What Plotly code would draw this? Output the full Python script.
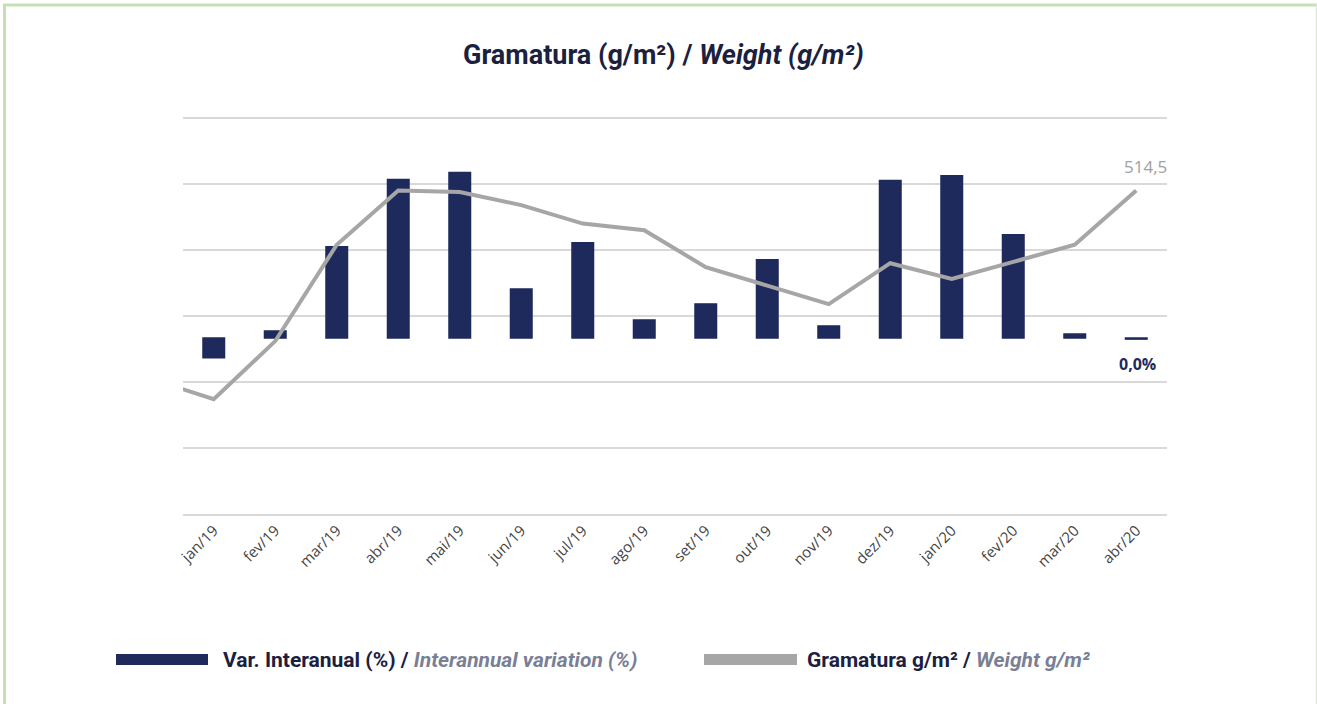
import plotly.graph_objects as go

# ---------------- data ----------------
months = ["jan/19", "fev/19", "mar/19", "abr/19", "mai/19", "jun/19", "jul/19", "ago/19",
          "set/19", "out/19", "nov/19", "dez/19", "jan/20", "fev/20", "mar/20", "abr/20"]
var_interanual = [-0.9, 0.32, 4.15, 7.2, 7.52, 2.23, 4.33, 0.82,
                  1.55, 3.56, 0.55, 7.16, 7.38, 4.69, 0.18, -0.05]
# weight series, including previous month (dez/18) which is clipped at the left edge
weight_prev = 500.2
gramatura = [498.7, 503.1, 510.4, 514.5, 514.4, 513.4, 512.0, 511.5,
             508.7, 507.3, 505.9, 509.0, 507.8, 509.1, 510.4, 514.5]
last_weight_label = "514,5"
last_var_label = "0,0%"

# ---------------- layout constants ----------------
W, H = 1317, 704
L, R, T, B = 183, 1167, 116, 514
NAVY = "#1F2A5C"
GREY_LINE = "#A6A6A6"
GRID = "#D9D9D9"
FONT = "Roboto, sans-serif"
PX_PER_G = 396 / 30.0          # gridlines 5 g/m² apart, ~66 px
W_MIN = 490
W_MAX = W_MIN + (B - T) / PX_PER_G

def px_x(p):
    return (p - L) / (R - L)

def px_y(p):
    return (B - p) / (B - T)

idx = list(range(len(months)))
fig = go.Figure()

fig.add_trace(go.Bar(
    x=idx, y=var_interanual, xaxis="x", yaxis="y",
    marker=dict(color=NAVY, line=dict(color=NAVY, width=1.5)),
    width=0.35, name="Var. Interanual (%)", showlegend=False,
    hoverinfo="skip",
))

fig.add_trace(go.Scatter(
    x=[-1] + idx, y=[weight_prev] + gramatura, xaxis="x", yaxis="y2",
    mode="lines", line=dict(color=GREY_LINE, width=4),
    name="Gramatura g/m²", showlegend=False, hoverinfo="skip",
))

fig.update_layout(
    width=W, height=H,
    margin=dict(l=L, r=W - R, t=T, b=H - B, autoexpand=False),
    paper_bgcolor="white", plot_bgcolor="white",
    showlegend=False,
    xaxis=dict(
        range=[-0.5, len(months) - 0.5],
        tickmode="array", tickvals=idx, ticktext=months,
        tickangle=-45, ticks="",
        tickfont=dict(family="Open Sans", size=15, color="#454545"),
        showgrid=False, zeroline=False,
        showline=True, linecolor=GRID, linewidth=2,
    ),
    xaxis2=dict(
        overlaying="x", anchor="y",
        range=[-0.5, len(months) - 0.5],
        tickmode="array", tickvals=[i - 0.5 for i in range(len(months) + 1)],
        ticks="outside", ticklen=7, tickcolor=GRID, tickwidth=1.5,
        showticklabels=False, showgrid=False, zeroline=False, showline=False,
    ),
    yaxis=dict(range=[-8, 10 + 2 / 21.94], visible=False, showgrid=False, zeroline=False),
    yaxis2=dict(
        overlaying="y", side="left", anchor="x",
        range=[W_MIN, W_MAX], dtick=5, tick0=490,
        showgrid=True, gridcolor=GRID, gridwidth=1.5,
        showticklabels=False, zeroline=False, showline=False, ticks="",
    ),
)

ann = []
# title
ann.append(dict(
    xref="paper", yref="paper", x=px_x(663), y=px_y(55),
    xanchor="center", yanchor="middle", showarrow=False,
    text="<b>Gramatura (g/m²) / <i>Weight (g/m²)</i></b>",
    font=dict(family=FONT, size=27, color="#1B2040"),
))
# data labels
ann.append(dict(
    xref="x", yref="y2", x=idx[-1], y=gramatura[-1],
    xanchor="center", yanchor="bottom", yshift=11, xshift=9, showarrow=False,
    text=last_weight_label,
    font=dict(family="Open Sans", size=17, color="#A0A0A0"),
))
ann.append(dict(
    xref="x", yref="y", x=idx[-1], y=var_interanual[-1],
    xanchor="center", yanchor="top", yshift=-12, xshift=1, showarrow=False,
    text="<b>" + last_var_label + "</b>",
    font=dict(family="Open Sans", size=16, color=NAVY),
))
# legend texts
ann.append(dict(
    xref="paper", yref="paper", x=px_x(221), y=px_y(660),
    xanchor="left", yanchor="middle", showarrow=False,
    text="<b>Var. Interanual (%) / </b><b><i><span style='color:#7A7F95'>Interannual variation (%)</span></i></b>",
    font=dict(family=FONT, size=21, color="#1B2040"),
))
ann.append(dict(
    xref="paper", yref="paper", x=px_x(805), y=px_y(660),
    xanchor="left", yanchor="middle", showarrow=False,
    text="<b>Gramatura g/m² / </b><b><i><span style='color:#7A7F95'>Weight g/m²</span></i></b>",
    font=dict(family=FONT, size=21, color="#1B2040"),
))
fig.update_layout(annotations=ann)

shapes = [
    # legend swatches
    dict(type="rect", xref="paper", yref="paper",
         x0=px_x(116), x1=px_x(208), y0=px_y(665), y1=px_y(654),
         fillcolor=NAVY, line=dict(width=0)),
    dict(type="rect", xref="paper", yref="paper",
         x0=px_x(704), x1=px_x(797), y0=px_y(665), y1=px_y(654),
         fillcolor=GREY_LINE, line=dict(width=0)),
    # green frame
    dict(type="line", xref="paper", yref="paper",
         x0=px_x(3), x1=px_x(1317), y0=px_y(5), y1=px_y(5),
         line=dict(color="#C5E0B4", width=3)),
    dict(type="line", xref="paper", yref="paper",
         x0=px_x(4.5), x1=px_x(4.5), y0=px_y(4), y1=px_y(704),
         line=dict(color="#C5E0B4", width=3)),
    dict(type="line", xref="paper", yref="paper",
         x0=px_x(1316.5), x1=px_x(1316.5), y0=px_y(4), y1=px_y(704),
         line=dict(color="#DDE8D5", width=1.5)),
]
fig.update_layout(shapes=shapes)

fig.write_html(
    "out.html",
    config={"displayModeBar": False},
    post_script="document.body.style.margin='0';document.body.style.padding='0';"
                "document.documentElement.style.overflow='hidden';",
)
